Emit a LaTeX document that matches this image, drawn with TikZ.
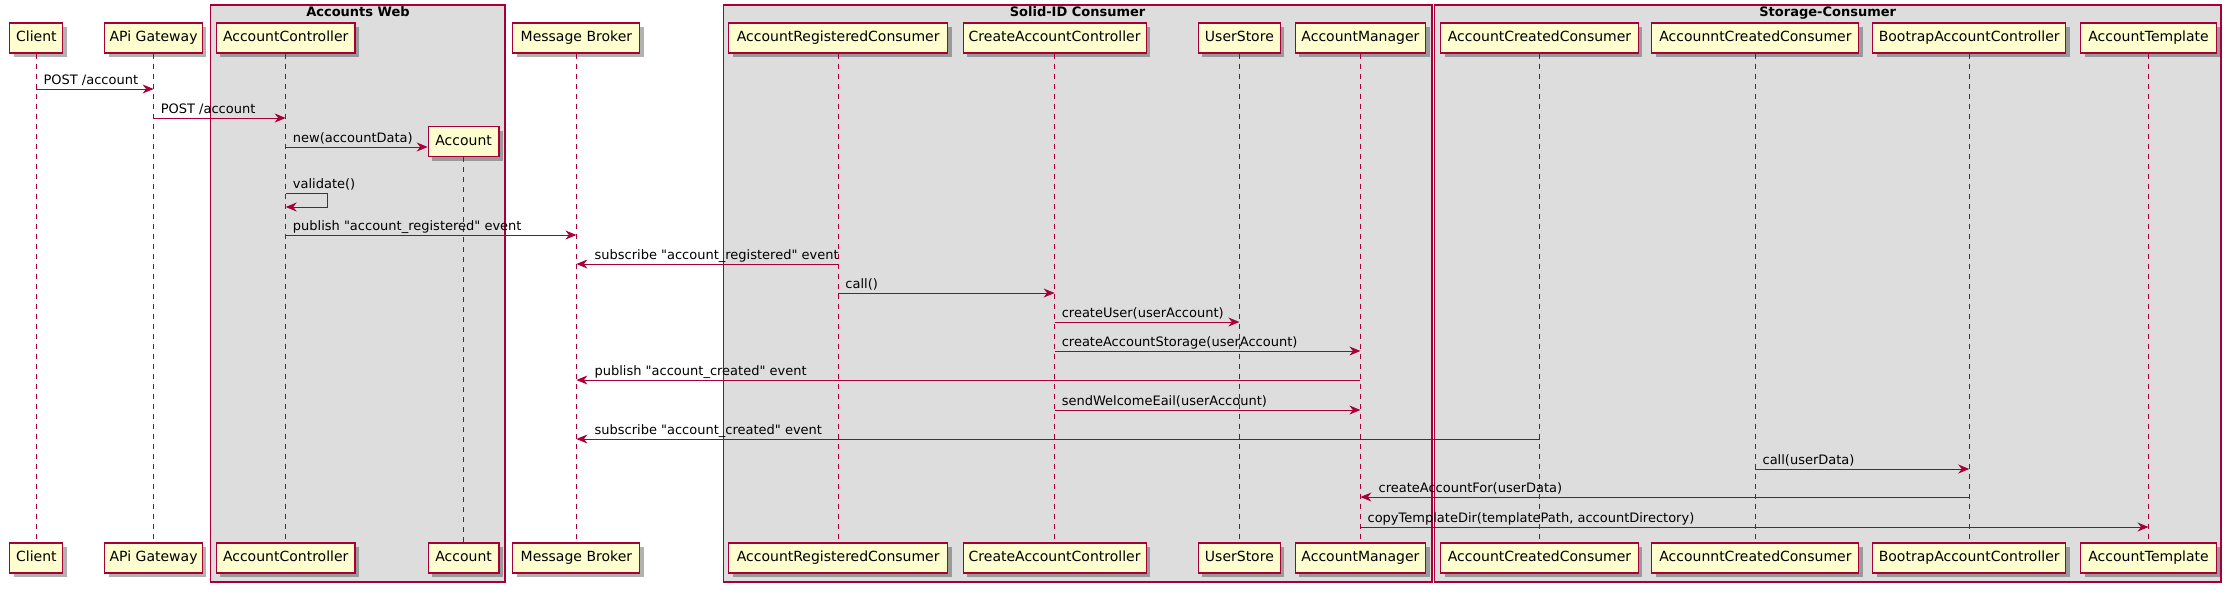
\documentclass[tikz,border=0pt]{standalone}
\usepackage{fontspec}
\newfontfamily\umlfont{DejaVu Sans}
\usetikzlibrary{arrows.meta,shadows}
\definecolor{pu}{HTML}{A80036}
\definecolor{pfill}{HTML}{FEFECE}
\definecolor{boxbg}{HTML}{DDDDDD}
\begin{document}
\begin{tikzpicture}[x=1pt,y=-1pt,
  part/.style={draw=pu, fill=pfill, line width=1.1pt, minimum height=30pt, inner sep=0pt,
    text height=10.5pt, text depth=3pt,
    font=\umlfont\fontsize{14}{16}\selectfont,
    drop shadow={shadow xshift=4pt, shadow yshift=-4pt, opacity=0.3, fill=black}},
  frame/.style={draw=pu, fill=boxbg, line width=1.1pt},
  ftitle/.style={font=\umlfont\bfseries\fontsize{13}{15}\selectfont, anchor=base, inner sep=0pt},
  life/.style={draw=pu, line width=1pt, dash pattern=on 5pt off 5pt},
  msg/.style={draw=pu, line width=1pt, -{Stealth[length=11pt, width=9pt, inset=3.5pt]}},
  lbl/.style={font=\umlfont\fontsize{13}{15}\selectfont, anchor=base west, inner sep=0pt}
]
\useasboundingbox (0,0) rectangle (2232,592);
\fill[white] (0,0) rectangle (2232,592);

% frames
\draw[frame] (210.7,5) rectangle (505,582);
\node[ftitle] (fAW) at (358,16) {Accounts Web};
\draw[frame] (723.2,5) rectangle (1432,582);
\node[ftitle] (fSID) at (1077.6,16) {Solid-ID Consumer};
\draw[frame] (1434.5,5) rectangle (2221,582);
\node[ftitle] (fSC) at (1827.7,16) {Storage-Consumer};

% participants
\foreach \n/\x/\w/\t in {client/36.4/53/Client, gw/153.6/97.5/APi Gateway,
  ac/285.7/138.5/AccountController, mb/576.4/127/Message Broker,
  arc/838.2/219/AccountRegisteredConsumer, cac/1054.6/183/CreateAccountController,
  us/1239.4/82/UserStore, am/1360.4/130.5/AccountManager,
  acc/1539.5/197.7/AccountCreatedConsumer, aacc/1755.4/207/AccounntCreatedConsumer,
  bac/1969.2/192.6/BootrapAccountController, tmpl/2148.5/135.3/AccountTemplate}{
  \node[part, minimum width=\w pt] (\n) at (\x,38) {\t};
  \node[part, minimum width=\w pt] (\n2) at (\x,558) {\t};
}
\node[part, minimum width=70.7pt] (acct) at (463.6,141.5) {Account};
\node[part, minimum width=70.7pt] (acct2) at (463.6,558) {Account};

% lifelines
\foreach \n in {client,gw,ac,mb,arc,cac,us,am,acc,aacc,bac,tmpl,acct}{
  \draw[life] (\n.south) -- (\n2.north);
}

% messages
\draw[msg] (client |- 0,89) -- (gw |- 0,89);
\path (client |- 0,89) ++(7,-5) node[lbl] {POST /account};
\draw[msg] (gw |- 0,118) -- (ac |- 0,118);
\path (gw |- 0,118) ++(7,-5) node[lbl] {POST /account};
\draw[msg] (ac |- 0,147) -- (acct.west |- 0,147);
\path (ac |- 0,147) ++(7,-5) node[lbl] {new(accountData)};
\draw[msg] (ac |- 0,193) -- ++(42,0) -- ++(0,14) -- (ac |- 0,207);
\path (ac |- 0,193) ++(7,-5) node[lbl] {validate()};
\draw[msg] (ac |- 0,235) -- (mb |- 0,235);
\path (ac |- 0,235) ++(7,-5) node[lbl] {publish "account\_registered" event};
\draw[msg] (arc |- 0,264) -- (mb |- 0,264);
\path (mb |- 0,264) ++(18,-5) node[lbl] {subscribe "account\_registered" event};
\draw[msg] (arc |- 0,293) -- (cac |- 0,293);
\path (arc |- 0,293) ++(7,-5) node[lbl] {call()};
\draw[msg] (cac |- 0,322) -- (us |- 0,322);
\path (cac |- 0,322) ++(7,-5) node[lbl] {createUser(userAccount)};
\draw[msg] (cac |- 0,351) -- (am |- 0,351);
\path (cac |- 0,351) ++(7,-5) node[lbl] {createAccountStorage(userAccount)};
\draw[msg] (am |- 0,380) -- (mb |- 0,380);
\path (mb |- 0,380) ++(18,-5) node[lbl] {publish "account\_created" event};
\draw[msg] (cac |- 0,410) -- (am |- 0,410);
\path (cac |- 0,410) ++(7,-5) node[lbl] {sendWelcomeEail(userAccount)};
\draw[msg] (acc |- 0,439) -- (mb |- 0,439);
\path (mb |- 0,439) ++(18,-5) node[lbl] {subscribe "account\_created" event};
\draw[msg] (aacc |- 0,469) -- (bac |- 0,469);
\path (aacc |- 0,469) ++(7,-5) node[lbl] {call(userData)};
\draw[msg] (bac |- 0,497) -- (am |- 0,497);
\path (am |- 0,497) ++(18,-5) node[lbl] {createAccountFor(userData)};
\draw[msg] (am |- 0,527) -- (tmpl |- 0,527);
\path (am |- 0,527) ++(7,-5) node[lbl] {copyTemplateDir(templatePath, accountDirectory)};
\end{tikzpicture}
\end{document}
